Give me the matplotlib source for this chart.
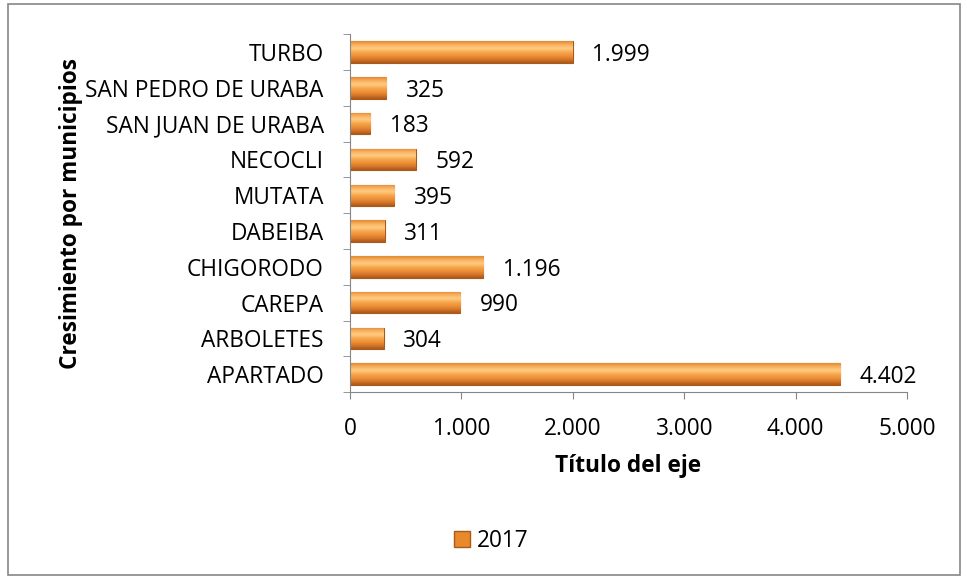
import numpy as np
import matplotlib.pyplot as plt
from matplotlib.patches import Rectangle
from matplotlib.colors import LinearSegmentedColormap

categories = ["APARTADO", "ARBOLETES", "CAREPA", "CHIGORODO", "DABEIBA",
              "MUTATA", "NECOCLI", "SAN JUAN DE URABA", "SAN PEDRO DE URABA", "TURBO"]
values = [4402, 304, 990, 1196, 311, 395, 592, 183, 325, 1999]
series_name = "2017"
xticks = [0, 1000, 2000, 3000, 4000, 5000]

plt.rcParams['font.family'] = ['Open Sans', 'DejaVu Sans']
FS = 16.3


def fmt(v):
    return f"{v:,}".replace(",", ".")


fig = plt.figure(figsize=(9.67, 5.8), dpi=100)
ax = fig.add_axes([0.362, 0.324, 0.576, 0.617])

y = np.arange(len(categories))
bars = ax.barh(y, values, height=0.6, color="#E8892B", edgecolor="#A85A18",
               linewidth=0.8, zorder=2)

# gradient shading on each bar
cmap = LinearSegmentedColormap.from_list(
    "bev", ["#A9581A", "#D8772A", "#EE9238", "#F7A850", "#FFCC80", "#F8B060", "#E38A30"])
grad = np.linspace(0, 1, 64).reshape(-1, 1)
for b in bars:
    x0, y0 = b.get_x(), b.get_y()
    w, h = b.get_width(), b.get_height()
    im = ax.imshow(grad, cmap=cmap, aspect="auto", extent=[x0, x0 + w, y0, y0 + h],
                   origin="lower", zorder=2.5, interpolation="bicubic")
    im.set_clip_path(b)

for v, yi in zip(values, y):
    ax.annotate(fmt(v), (v, yi), xytext=(14, -2), textcoords="offset points",
                va="center", ha="left", fontsize=FS)

ax.set_xlim(0, 5000)
ax.set_ylim(-0.5, len(categories) - 0.5)
ax.set_xticks(xticks)
ax.set_xticklabels([fmt(t) for t in xticks], fontsize=FS)
ax.set_yticks(y)
ax.set_yticklabels(categories, fontsize=FS)
ax.set_yticks(np.arange(-0.5, len(categories), 1), minor=True)
ax.tick_params(axis="y", which="major", length=0, pad=19)
ax.tick_params(axis="y", which="minor", length=5, color="#868686", direction="out")
ax.tick_params(axis="x", length=5, color="#868686", direction="out", pad=13)

for s in ["top", "right"]:
    ax.spines[s].set_visible(False)
for s in ["left", "bottom"]:
    ax.spines[s].set_color("#868686")

ax.set_xlabel("Título del eje", fontsize=FS, fontweight="bold", labelpad=9)
ax.set_ylabel("Cresimiento por municipios", fontsize=FS, fontweight="bold", labelpad=2)

leg_handle = Rectangle((0, 0), 1, 1, facecolor="#E8892B", edgecolor="#A85A18")
fig.legend([leg_handle], [series_name], loc="center", bbox_to_anchor=(0.508, 0.067),
           frameon=False, fontsize=FS, handlelength=0.7, handleheight=0.7,
           handletextpad=0.3)

fig.patches.append(Rectangle((0.008, 0.008), 0.985, 0.985, transform=fig.transFigure,
                             fill=False, edgecolor="#868686", linewidth=1.2))

fig.savefig("out.png", dpi=100)
